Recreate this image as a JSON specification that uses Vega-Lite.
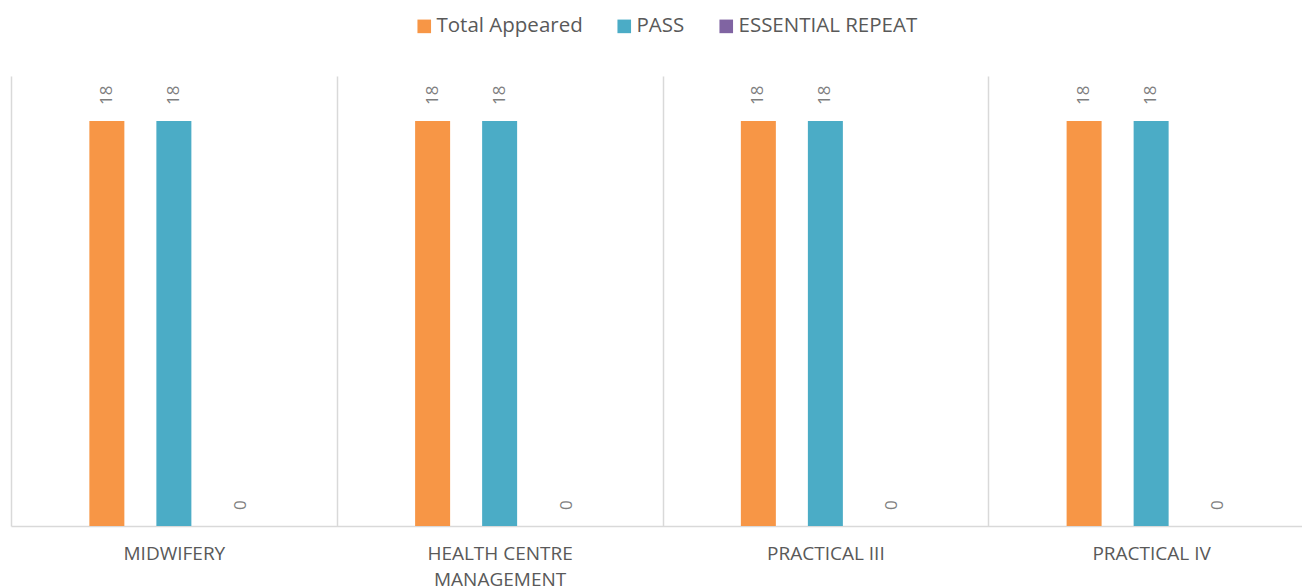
{
  "$schema": "https://vega.github.io/schema/vega-lite/v6.json",
  "width": 1291,
  "height": 450,
  "autosize": {"type": "none"},
  "padding": {"left": 11, "top": 76, "right": 0, "bottom": 61},
  "background": "white",
  "data": {
    "values": [
      {"subject": "MIDWIFERY", "series": "Total Appeared", "value": 18},
      {"subject": "MIDWIFERY", "series": "PASS", "value": 18},
      {"subject": "MIDWIFERY", "series": "ESSENTIAL REPEAT", "value": 0},
      {"subject": "HEALTH CENTRE MANAGEMENT", "series": "Total Appeared", "value": 18},
      {"subject": "HEALTH CENTRE MANAGEMENT", "series": "PASS", "value": 18},
      {"subject": "HEALTH CENTRE MANAGEMENT", "series": "ESSENTIAL REPEAT", "value": 0},
      {"subject": "PRACTICAL III", "series": "Total Appeared", "value": 18},
      {"subject": "PRACTICAL III", "series": "PASS", "value": 18},
      {"subject": "PRACTICAL III", "series": "ESSENTIAL REPEAT", "value": 0},
      {"subject": "PRACTICAL IV", "series": "Total Appeared", "value": 18},
      {"subject": "PRACTICAL IV", "series": "PASS", "value": 18},
      {"subject": "PRACTICAL IV", "series": "ESSENTIAL REPEAT", "value": 0}
    ]
  },
  "encoding": {
    "x": {
      "field": "subject",
      "type": "nominal",
      "sort": ["MIDWIFERY", "HEALTH CENTRE MANAGEMENT", "PRACTICAL III", "PRACTICAL IV"],
      "scale": {"range": [0, 1303], "paddingInner": 0, "paddingOuter": 0},
      "axis": {
        "title": null,
        "labelAngle": 0,
        "grid": true,
        "tickBand": "extent",
        "gridColor": "#d9d9d9",
        "gridWidth": 1.5,
        "domainColor": "#d9d9d9",
        "domainWidth": 1.5,
        "ticks": false,
        "tickSize": 0,
        "labelPadding": 18,
        "labelFont": "Open Sans",
        "labelFontSize": 19,
        "labelColor": "#595959",
        "labelBaseline": "top",
        "labelLineHeight": 26,
        "labelLimit": 400,
        "labelExpr": "datum.value == 'HEALTH CENTRE MANAGEMENT' ? ['HEALTH CENTRE', 'MANAGEMENT'] : datum.value"
      }
    },
    "xOffset": {
      "field": "series",
      "type": "nominal",
      "sort": ["Total Appeared", "PASS", "ESSENTIAL REPEAT"],
      "scale": {"paddingInner": 0.139, "paddingOuter": 1}
    },
    "y": {
      "field": "value",
      "type": "quantitative",
      "scale": {"domain": [0, 20]},
      "axis": null
    }
  },
  "layer": [
    {
      "mark": {"type": "bar", "width": 35},
      "encoding": {
        "color": {
          "field": "series",
          "type": "nominal",
          "sort": ["Total Appeared", "PASS", "ESSENTIAL REPEAT"],
          "scale": {
            "domain": ["Total Appeared", "PASS", "ESSENTIAL REPEAT"],
            "range": ["#F79646", "#4BACC6", "#8064A2"]
          },
          "legend": {
            "title": null,
            "orient": "none",
            "direction": "horizontal",
            "legendX": 403,
            "legendY": -60,
            "symbolType": "square",
            "symbolSize": 185,
            "symbolStrokeWidth": 0,
            "labelFont": "Open Sans",
            "labelFontSize": 20.5,
            "labelColor": "#595959",
            "labelOffset": 2,
            "columnPadding": 31,
            "labelLimit": 400
          }
        }
      }
    },
    {
      "mark": {
        "type": "text",
        "angle": 270,
        "align": "left",
        "baseline": "middle",
        "dx": 16,
        "font": "Open Sans",
        "fontSize": 17,
        "color": "#7f7f7f"
      },
      "encoding": {
        "text": {"field": "value", "type": "quantitative"}
      }
    }
  ],
  "config": {
    "view": {"stroke": null}
  }
}
